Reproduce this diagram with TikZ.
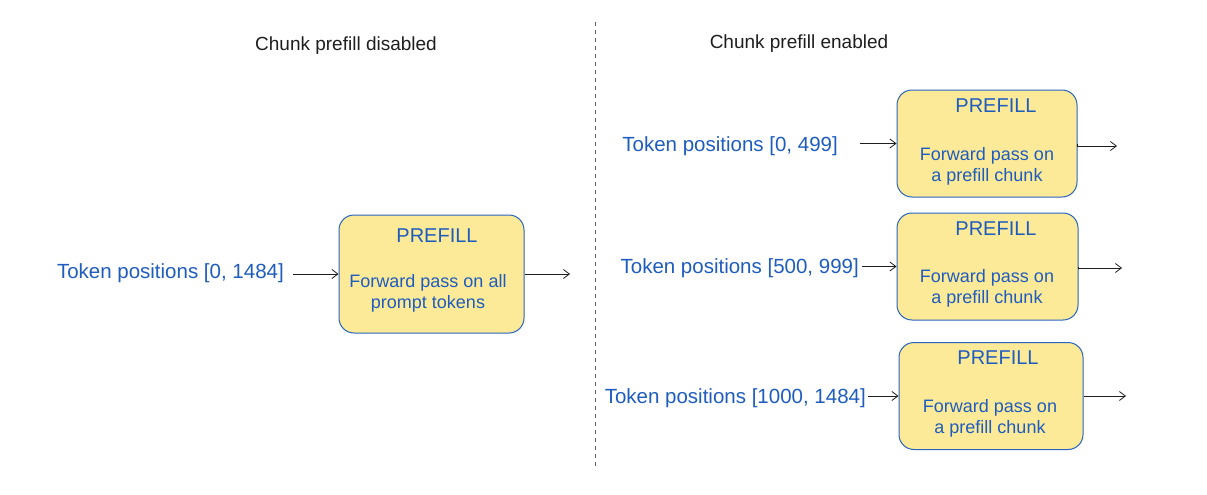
\documentclass[tikz,border=0pt]{standalone}
\usepackage{fontspec}
\setmainfont{Liberation Sans}
\usetikzlibrary{arrows.meta}
\definecolor{txtblue}{RGB}{30,92,190}
\definecolor{boxblue}{RGB}{40,100,190}
\definecolor{boxfill}{RGB}{252,234,152}
\definecolor{ink}{RGB}{30,30,30}
\tikzset{
  box/.style={draw=boxblue, line width=1pt, fill=boxfill, rounded corners=15pt, minimum width=#1, minimum height=107pt, inner sep=0pt},
  lbl/.style={text=txtblue, font=\fontsize{20.5}{24}\selectfont, inner sep=0pt},
  ttl/.style={text=ink, font=\fontsize{19}{22}\selectfont, inner sep=0pt},
  head/.style={text=txtblue, font=\fontsize{20}{24}\selectfont, inner sep=0pt},
  body/.style={text=txtblue, font=\fontsize{18}{21}\selectfont, align=center, inner sep=0pt},
  arr/.style={draw=ink, line width=0.8pt, -{Straight Barb[length=6pt,width=9pt]}},
  divider/.style={draw=ink!70, line width=1pt, dash pattern=on 4pt off 4pt}
}
\begin{document}
\begin{tikzpicture}[x=1pt,y=-1pt]
\useasboundingbox (0,0) rectangle (1207,495);
% titles
\node[ttl] (tl) at (346,46) {Chunk prefill disabled};
\node[ttl] (tr) at (799,44) {Chunk prefill enabled};
% divider
\coordinate (dtop) at (595,22);
\coordinate (dbot) at (595,470);
\draw[divider] (dtop) -- (dbot);
% left side
\node[box=185pt, minimum height=118pt] (b0) at (431.5,274) {};
\node[head] (p0) at (437,236) {PREFILL};
\node[body] (t0) at (428,293) {Forward pass on all\\prompt tokens};
\node[lbl, anchor=east] (l0) at (284,273) {Token positions [0, 1484]};
\coordinate (o0) at (570,274);
\draw[arr] ([xshift=9pt]l0.east |- b0.west) -- (b0.west);
\draw[arr] (b0.east) -- (o0);
% right side chunk 1
\node[box=180pt] (b1) at (987,143.5) {};
\node[head] (p1) at (996,106) {PREFILL};
\node[body] (t1) at (987,166) {Forward pass on\\a prefill chunk};
\node[lbl, anchor=east] (l1) at (838,146) {Token positions [0, 499]};
\coordinate (o1) at (1117,146);
\draw[arr] ([xshift=22pt]l1.east |- b1.west) -- (b1.west);
\draw[arr] (b1.east) -- (o1 -| b1.east) -- (o1);
% right side chunk 2
\node[box=181pt] (b2) at (987.5,266.5) {};
\node[head] (p2) at (996,229) {PREFILL};
\node[body] (t2) at (987,288) {Forward pass on\\a prefill chunk};
\node[lbl, anchor=east] (l2) at (859,268) {Token positions [500, 999]};
\coordinate (o2) at (1122,268);
\draw[arr] ([xshift=3pt]l2.east |- b2.west) -- (b2.west);
\draw[arr] (b2.east) -- (o2 -| b2.east) -- (o2);
% right side chunk 3
\node[box=184pt] (b3) at (991,396) {};
\node[head] (p3) at (998,358) {PREFILL};
\node[body] (t3) at (990,418) {Forward pass on\\a prefill chunk};
\node[lbl, anchor=east] (l3) at (866,398) {Token positions [1000, 1484]};
\coordinate (o3) at (1126,396);
\draw[arr] ([xshift=2pt]l3.east |- b3.west) -- (b3.west);
\draw[arr] (b3.east) -- (o3);
\end{tikzpicture}
\end{document}
